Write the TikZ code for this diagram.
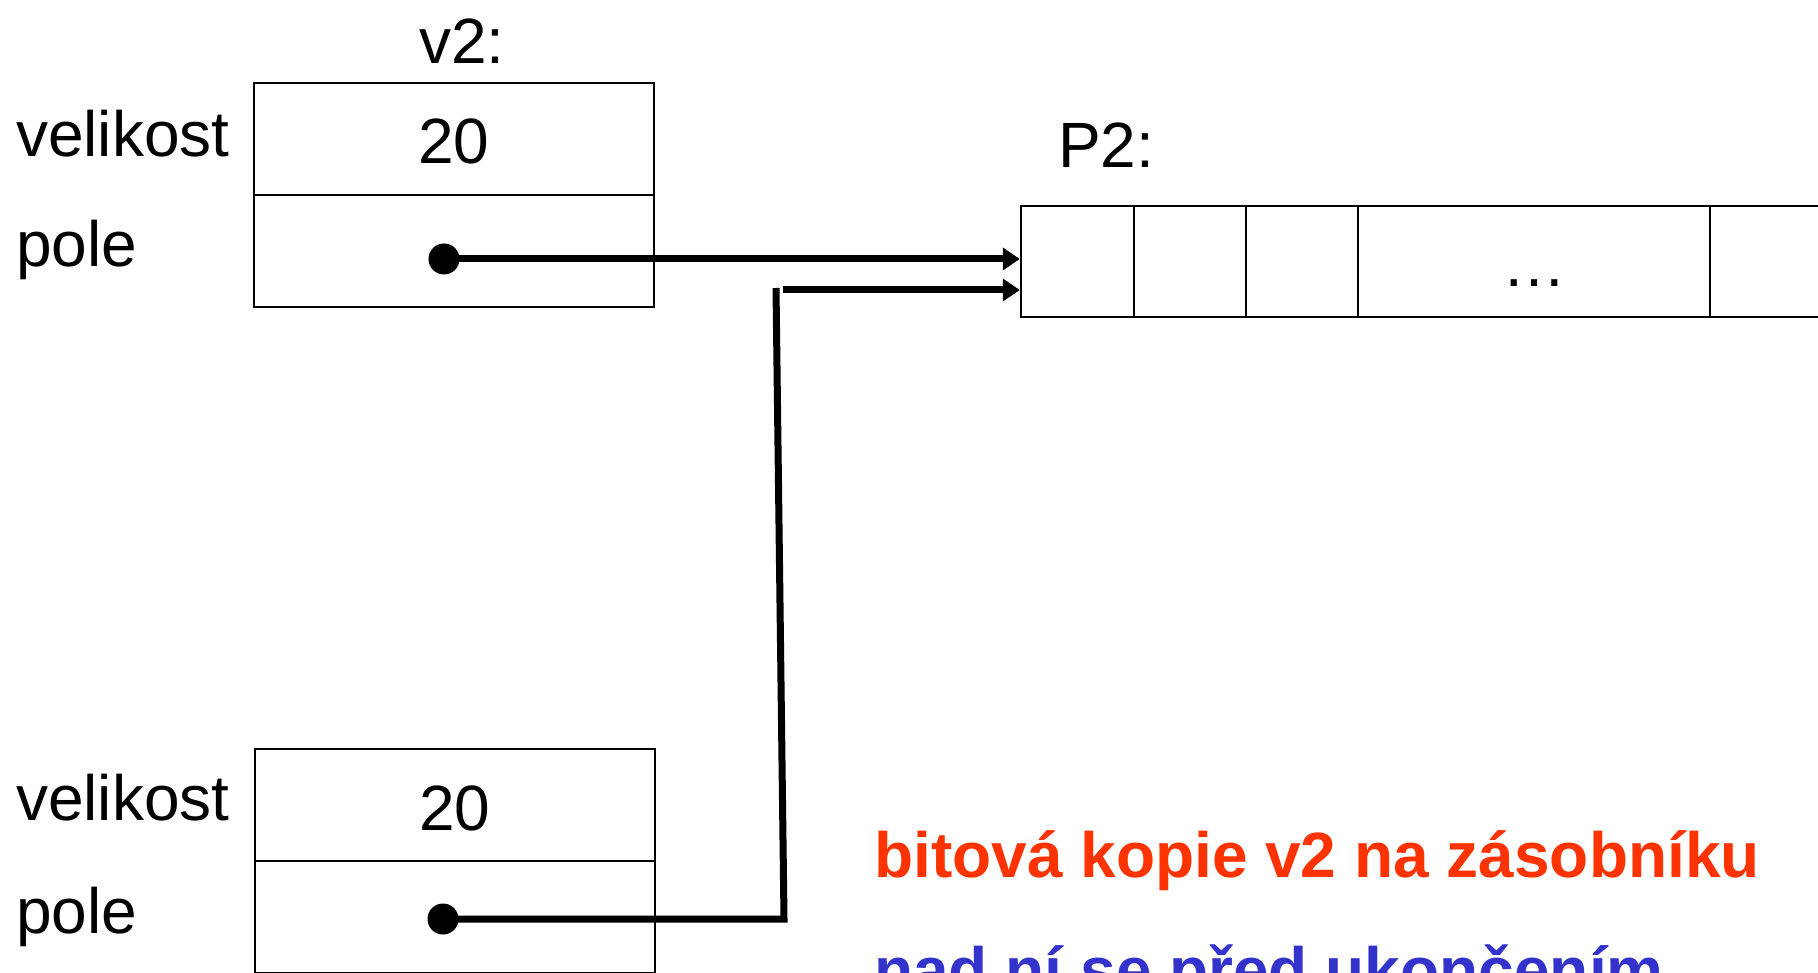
\documentclass[tikz,border=0pt]{standalone}
\usepackage{fontspec}
\setmainfont{Liberation Sans}
\usetikzlibrary{arrows.meta}
\definecolor{kopred}{RGB}{255,51,0}
\definecolor{kopblue}{RGB}{51,51,204}
\begin{document}
\begin{tikzpicture}[x=1pt,y=-1pt,
  big/.style={font=\fontsize{64pt}{77pt}\selectfont},
  bigbold/.style={font=\fontsize{64pt}{77pt}\selectfont\bfseries},
  cell/.style={draw,line width=2.5pt,inner sep=0pt,big,text height=50pt,text depth=0pt},
  rowcell/.style={cell,minimum width=400pt,minimum height=112pt},
  arrcell/.style={cell,minimum height=111pt},
  lbl/.style={big,anchor=base west,inner sep=0pt},
  dotn/.style={circle,fill,inner sep=0pt,minimum size=31pt},
  ptr/.style={line width=7pt,-{Triangle[length=17pt,width=22pt]}},
  wire/.style={line width=7pt,line join=miter}]
\useasboundingbox (0,0) rectangle (1818,973);
% top structure v2
\node[lbl,anchor=base] (v2lbl) at (462,64) {v2:};
\node[rowcell] (v2a) at (454,139) {20};
\node[rowcell] (v2b) at (454,251) {};
\node[lbl] (vel1) at (16,157) {velikost};
\node[lbl] (pole1) at (16,267) {pole};
% bottom copy
\node[rowcell] (kpa) at (455,805) {20};
\node[rowcell] (kpb) at (455,917) {};
\node[lbl] (vel2) at (16,820) {velikost};
\node[lbl] (pole2) at (16,933) {pole};
% array P2
\node[lbl] (p2lbl) at (1058,168) {P2:};
\node[arrcell,minimum width=113pt] (c1) at (1077.5,261.5) {};
\node[arrcell,minimum width=112pt] (c2) at (1190,261.5) {};
\node[arrcell,minimum width=112pt] (c3) at (1302,261.5) {};
\node[arrcell,minimum width=352pt] (c4) at (1534,261.5) {\char"2026};
\node[arrcell,minimum width=116pt] (c5) at (1768,261.5) {};
% pointers
\node[dotn] (d1) at (444,259) {};
\node[dotn] (d2) at (443,919) {};
\coordinate (k1) at (783,290);
\coordinate (k2) at (784,919);
\coordinate (k3) at (776,288);
\draw[ptr] (d1.center) -- (d1.center -| c1.west);
\draw[ptr] (k1) -- (k1 -| c1.west);
\draw[wire] (d2.center) -- (k2) -- (k3);
% notes
\node[lbl,bigbold,text=kopred] (t1) at (874,877) {bitová kopie v2 na zásobníku};
\node[lbl,bigbold,text=kopblue] (t2) at (874,992) {nad ní se před ukončením};
\end{tikzpicture}
\end{document}
